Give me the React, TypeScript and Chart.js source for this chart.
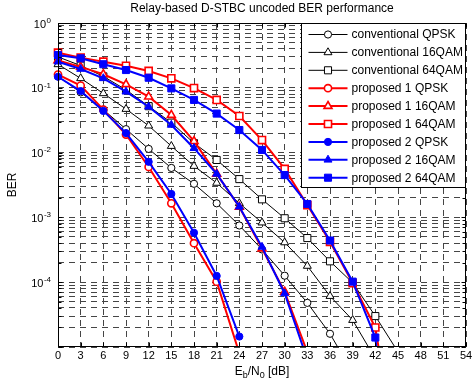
import React, { useEffect, useRef } from "react";
import { Chart, registerables } from "chart.js";
import { drawPoint } from "chart.js/helpers";

Chart.register(...registerables);

// ---------- data ----------
const SNR_DB = [0, 3, 6, 9, 12, 15, 18, 21, 24, 27, 30, 33, 36, 39, 42, 45];
const X_TICKS = [0, 3, 6, 9, 12, 15, 18, 21, 24, 27, 30, 33, 36, 39, 42, 45, 48, 51, 54];
const Y_LABEL_EXPS = [0, -1, -2, -3, -4];
const Y_MIN_EXP = -5;
const Y_MAX_EXP = 0;

const convQPSK = [0.15, 0.085, 0.046, 0.023, 0.0114, 0.0058, 0.0033, 0.00165, 7.5e-4, 3.2e-4, 1.26e-4, 4.8e-5, 1.6e-5, 4e-6];
const conv16QAM = [0.23, 0.14, 0.082, 0.047, 0.026, 0.0126, 0.0062, 0.0034, 0.00165, 8.3e-4, 4.1e-4, 1.78e-4, 6.1e-5, 2.6e-5, 6.6e-6];
const conv64QAM = [0.3, 0.22, 0.15, 0.093, 0.052, 0.029, 0.014, 0.0077, 0.0039, 0.0019, 9.7e-4, 4.8e-4, 2.1e-4, 9.8e-5, 3.0e-5, 8.4e-6];
const prop1QPSK = [0.16, 0.108, 0.046, 0.019, 0.006, 0.00165, 4.0e-4, 1.02e-4, 8e-6];
const prop116QAM = [0.265, 0.21, 0.162, 0.113, 0.073, 0.038, 0.015, 0.0047, 0.00145, 3.3e-4, 7.1e-5, 8.3e-6];
const prop164QAM = [0.348, 0.292, 0.253, 0.219, 0.182, 0.14, 0.099, 0.065, 0.0367, 0.0156, 0.0056, 0.00155, 4.2e-4, 9.7e-5, 2.0e-5, 1.4e-7];
const prop2QPSK = [0.148, 0.089, 0.044, 0.02, 0.0072, 0.0023, 5.8e-4, 1.25e-4, 1.45e-5];
const prop216QAM = [0.253, 0.195, 0.14, 0.087, 0.051, 0.0267, 0.0117, 0.0047, 0.00146, 3.5e-4, 6.7e-5, 6.4e-6];
const prop264QAM = [0.321, 0.285, 0.231, 0.188, 0.143, 0.098, 0.065, 0.04, 0.0223, 0.011, 0.0045, 0.00161, 4.4e-4, 1.02e-4, 1.4e-5, 1e-8];

const SERIES_LABELS = [
  "conventional QPSK",
  "conventional 16QAM",
  "conventional 64QAM",
  "proposed 1 QPSK",
  "proposed 1 16QAM",
  "proposed 1 64QAM",
  "proposed 2 QPSK",
  "proposed 2 16QAM",
  "proposed 2 64QAM",
];
const SERIES_VALUES = [convQPSK, conv16QAM, conv64QAM, prop1QPSK, prop116QAM, prop164QAM, prop2QPSK, prop216QAM, prop264QAM];

const TITLE = "Relay-based D-STBC uncoded BER performance";
const Y_TITLE = "BER";

// ---------- styles ----------
const FONT = '"Liberation Sans", Arial, Helvetica, sans-serif';
const GROUP_STYLE = [
  { color: "#000000", filled: false, lineWidth: 1, markerBorder: 1 },
  { color: "#ff0000", filled: false, lineWidth: 2, markerBorder: 1.6 },
  { color: "#0000ff", filled: true, lineWidth: 2, markerBorder: 1 },
];
const MARKERS = [
  { pointStyle: "circle", radius: 3.6 },
  { pointStyle: "triangle", radius: 4.6 },
  { pointStyle: "rect", radius: 5 },
];
const GRID_COLOR = "#454545";
const GRID_DASH = [6, 5];

function styleFor(i: number) {
  const g = GROUP_STYLE[Math.floor(i / 3)];
  const m = MARKERS[i % 3];
  return { ...g, ...m };
}

function yGridValues() {
  const vals: number[] = [];
  for (let e = Y_MIN_EXP; e < Y_MAX_EXP; e++) {
    for (let m = 1; m <= 9; m++) vals.push(parseFloat((m * Math.pow(10, e)).toPrecision(6)));
  }
  vals.push(Math.pow(10, Y_MAX_EXP));
  return vals;
}

const decorPlugin = {
  id: "decor",
  afterDraw(chart: any) {
    const ctx: CanvasRenderingContext2D = chart.ctx;
    const { left, right, top, bottom } = chart.chartArea;
    const xs = chart.scales.x;
    const ys = chart.scales.y;
    const L = Math.round(left) + 0.5;
    const R = Math.round(right) - 0.5;
    const T = Math.round(top) + 0.5;
    const B = Math.round(bottom) - 0.5;
    ctx.save();
    ctx.setLineDash([]);
    ctx.strokeStyle = "#000";
    ctx.lineWidth = 1;

    // inner tick marks
    ctx.beginPath();
    X_TICKS.forEach((v) => {
      const px = Math.round(xs.getPixelForValue(v)) + 0.5;
      ctx.moveTo(px, B);
      ctx.lineTo(px, B - 4);
      ctx.moveTo(px, T);
      ctx.lineTo(px, T + 4);
    });
    yGridValues().forEach((v) => {
      const py = Math.round(ys.getPixelForValue(v)) + 0.5;
      const major = Math.abs(Math.log10(v) - Math.round(Math.log10(v))) < 1e-9;
      const len = major ? 4 : 3;
      ctx.moveTo(L, py);
      ctx.lineTo(L + len, py);
      ctx.moveTo(R, py);
      ctx.lineTo(R - len, py);
    });
    ctx.stroke();

    // axes box
    ctx.strokeRect(L, T, R - L, B - T);

    ctx.fillStyle = "#000";

    // x tick labels
    ctx.font = `11px ${FONT}`;
    ctx.textAlign = "center";
    ctx.textBaseline = "middle";
    X_TICKS.forEach((v) => ctx.fillText(String(v), xs.getPixelForValue(v), bottom + 9));

    // y tick labels 10^e
    Y_LABEL_EXPS.forEach((e) => {
      const py = ys.getPixelForValue(Math.pow(10, e));
      const base = "10";
      const exp = String(e);
      ctx.font = `8px ${FONT}`;
      const we = ctx.measureText(exp).width;
      ctx.font = `11px ${FONT}`;
      const wb = ctx.measureText(base).width;
      const xr = 51;
      ctx.textAlign = "left";
      ctx.textBaseline = "middle";
      ctx.fillText(base, xr - we - wb - 0.5, py + 1.5);
      ctx.font = `8px ${FONT}`;
      ctx.fillText(exp, xr - we, py - 2.5);
    });

    // title
    ctx.font = `12px ${FONT}`;
    ctx.textAlign = "center";
    ctx.textBaseline = "middle";
    ctx.fillText(TITLE, (left + right) / 2, 9);

    // x axis title: E_b/N_0 [dB]
    const parts = [
      { t: "E", sub: false },
      { t: "b", sub: true },
      { t: "/N", sub: false },
      { t: "0", sub: true },
      { t: " [dB]", sub: false },
    ];
    const widths = parts.map((p) => {
      ctx.font = p.sub ? `9px ${FONT}` : `12px ${FONT}`;
      return ctx.measureText(p.t).width;
    });
    const total = widths.reduce((a, b) => a + b, 0);
    let cx = (left + right) / 2 - total / 2;
    ctx.textAlign = "left";
    parts.forEach((p, i) => {
      ctx.font = p.sub ? `9px ${FONT}` : `12px ${FONT}`;
      ctx.fillText(p.t, cx, p.sub ? 375.5 : 371.5);
      cx += widths[i];
    });

    // y axis title
    ctx.save();
    ctx.translate(13, (top + bottom) / 2);
    ctx.rotate(-Math.PI / 2);
    ctx.font = `12px ${FONT}`;
    ctx.textAlign = "center";
    ctx.textBaseline = "middle";
    ctx.fillText(Y_TITLE, 0, 0);
    ctx.restore();

    // legend
    const datasets = chart.data.datasets;
    ctx.font = `12px ${FONT}`;
    let maxW = 0;
    datasets.forEach((d: any) => (maxW = Math.max(maxW, ctx.measureText(d.label).width)));
    const rowH = 17.9;
    const boxW = Math.round(50 + maxW + 3);
    const boxH = Math.round(rowH * datasets.length + 3);
    const bx = Math.round(right) - boxW - 0.5;
    const by = T;
    ctx.fillStyle = "#fff";
    ctx.fillRect(bx, by, boxW, boxH);
    ctx.strokeStyle = "#000";
    ctx.lineWidth = 1;
    ctx.strokeRect(bx, by, boxW, boxH);
    datasets.forEach((d: any, i: number) => {
      const cy = by + 11 + i * rowH;
      ctx.strokeStyle = d.borderColor;
      ctx.lineWidth = d.borderWidth;
      ctx.beginPath();
      ctx.moveTo(bx + 7, cy);
      ctx.lineTo(bx + 46, cy);
      ctx.stroke();
      ctx.fillStyle = d.pointBackgroundColor;
      ctx.strokeStyle = d.pointBorderColor;
      ctx.lineWidth = d.pointBorderWidth;
      drawPoint(ctx, { pointStyle: d.pointStyle, radius: d.pointRadius, rotation: 0, borderWidth: d.pointBorderWidth } as any, bx + 26.5, cy);
      ctx.fillStyle = "#000";
      ctx.font = `12px ${FONT}`;
      ctx.textAlign = "left";
      ctx.textBaseline = "middle";
      ctx.fillText(d.label, bx + 50, cy + 0.5);
    });

    ctx.restore();
  },
};

export default function App() {
  const ref = useRef<HTMLCanvasElement>(null);

  useEffect(() => {
    const n = SERIES_LABELS.length;
    const datasets = SERIES_LABELS.map((label, i) => {
      const s = styleFor(i);
      return {
        label,
        data: SERIES_VALUES[i].map((y, k) => ({ x: SNR_DB[k], y })),
        borderColor: s.color,
        backgroundColor: s.color,
        borderWidth: s.lineWidth,
        pointStyle: s.pointStyle,
        pointRadius: s.radius,
        pointHoverRadius: s.radius,
        pointBorderWidth: s.markerBorder,
        pointBorderColor: s.color,
        pointBackgroundColor: s.filled ? s.color : "#ffffff",
        tension: 0,
        fill: false,
        order: n - 1 - i,
        clip: { left: 10, top: 10, right: 10, bottom: 0 },
      };
    });

    const chart = new Chart(ref.current as HTMLCanvasElement, {
      type: "line",
      data: { datasets: datasets as any },
      options: {
        animation: false,
        responsive: false,
        devicePixelRatio: 1,
        events: [],
        layout: { padding: { top: 23, right: 8, left: 0, bottom: 0 } },
        plugins: {
          legend: { display: false },
          title: { display: false },
          tooltip: { enabled: false },
        },
        scales: {
          x: {
            type: "linear",
            min: 0,
            max: 54,
            ticks: { display: false, stepSize: 3 },
            afterBuildTicks: (scale: any) => {
              scale.ticks = X_TICKS.map((v) => ({ value: v }));
            },
            afterFit: (scale: any) => {
              scale.height = 37;
            },
            grid: { color: GRID_COLOR, lineWidth: 1, drawTicks: false },
            border: { display: false, dash: GRID_DASH },
          },
          y: {
            type: "logarithmic",
            min: Math.pow(10, Y_MIN_EXP),
            max: Math.pow(10, Y_MAX_EXP),
            ticks: { display: false },
            afterBuildTicks: (scale: any) => {
              scale.ticks = yGridValues().map((v) => ({ value: v }));
            },
            afterFit: (scale: any) => {
              scale.width = 58;
            },
            grid: { color: GRID_COLOR, lineWidth: 1, drawTicks: false },
            border: { display: false, dash: GRID_DASH },
          },
        },
      },
      plugins: [decorPlugin],
    } as any);
    return () => chart.destroy();
  }, []);

  return (
    <div style={{ position: "fixed", left: 0, top: 0, width: 474, height: 384, background: "#fff" }}>
      <canvas ref={ref} width={474} height={384} style={{ display: "block", width: 474, height: 384 }} />
    </div>
  );
}
